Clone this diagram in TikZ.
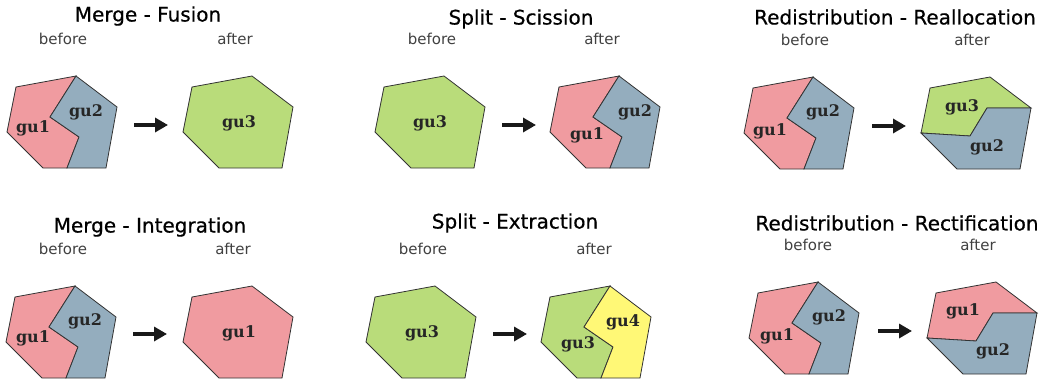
\documentclass[tikz,border=0pt]{standalone}
\usepackage{fontspec}
\setmainfont{DejaVu Sans}
\newfontfamily\gufont{DejaVu Serif}
\usetikzlibrary{arrows.meta}

\definecolor{gupink}{RGB}{240,155,160}
\definecolor{gublue}{RGB}{148,173,190}
\definecolor{gugreen}{RGB}{185,220,122}
\definecolor{guyellow}{RGB}{255,248,118}

\tikzset{
  parcel/.style={draw=black!80, line width=0.8pt, line join=miter},
  optitle/.style={font=\fontsize{20}{24}\selectfont\addfontfeature{FakeBold=0.6}},
  stage/.style={font=\fontsize{15}{18}\selectfont, text=black!75},
  gu/.style={font=\gufont\bfseries\fontsize{16}{18}\selectfont, text=black!85},
  change/.style={-{Triangle[length=13pt,width=14pt]}, line width=4pt, black!90},
}

% corners of the parcel, relative to its top vertex
\newcommand{\parcelpoints}{%
  \coordinate (tl) at (-60,11);
  \coordinate (t)  at (0,0);
  \coordinate (r)  at (41,31);
  \coordinate (br) at (30,92);
  \coordinate (bl) at (-33,92);
  \coordinate (l)  at (-69,56);
  % vertical split
  \coordinate (s1) at (-26,41);
  \coordinate (s2) at (3,61);
  \coordinate (sb) at (-9,92);
  % horizontal split
  \coordinate (h1) at (-20,59);
  \coordinate (h2) at (-3,31);
}

\begin{document}
\begin{tikzpicture}[x=1pt,y=-1pt]
    \useasboundingbox (0,0) rectangle (1044,380);

    % ---------------- Merge - Fusion ----------------
    \node[optitle] (fus-title) at (148,16) {Merge - Fusion};
    \node[stage] (fus-before) at (63,39) {before};
    \node[stage] (fus-after) at (235,39) {after};
    \begin{scope}[shift={(76,76)}]
        \parcelpoints
        \filldraw[parcel,fill=gupink] (tl) -- (t) -- (s1) -- (s2) -- (sb) -- (bl) -- (l) -- cycle;
        \filldraw[parcel,fill=gublue] (t) -- (r) -- (br) -- (sb) -- (s2) -- (s1) -- cycle;
        \node[gu] (fus-a) at (-43,52) {gu1};
        \node[gu] (fus-b) at (10,36) {gu2};
    \end{scope}
    \coordinate (fus-from) at (134,125);
    \coordinate (fus-to) at (168,125);
    \draw[change] (fus-from) -- (fus-to);
    \begin{scope}[shift={(252,76)}]
        \parcelpoints
        \filldraw[parcel,fill=gugreen] (tl) -- (t) -- (r) -- (br) -- (bl) -- (l) -- cycle;
        \node[gu] (fus-c) at (-13,47) {gu3};
    \end{scope}

    % ---------------- Split - Scission ----------------
    \node[optitle] (sci-title) at (521,19) {Split - Scission};
    \node[stage] (sci-before) at (432,39) {before};
    \node[stage] (sci-after) at (602,39) {after};
    \begin{scope}[shift={(444,76)}]
        \parcelpoints
        \filldraw[parcel,fill=gugreen] (tl) -- (t) -- (r) -- (br) -- (bl) -- (l) -- cycle;
        \node[gu] (sci-c) at (-14,47) {gu3};
    \end{scope}
    \coordinate (sci-from) at (502,125);
    \coordinate (sci-to) at (536,125);
    \draw[change] (sci-from) -- (sci-to);
    \begin{scope}[shift={(619,76)}]
        \parcelpoints
        \filldraw[parcel,fill=gupink] (tl) -- (t) -- (s1) -- (s2) -- (sb) -- (bl) -- (l) -- cycle;
        \filldraw[parcel,fill=gublue] (t) -- (r) -- (br) -- (sb) -- (s2) -- (s1) -- cycle;
        \node[gu] (sci-a) at (-32,59) {gu1};
        \node[gu] (sci-b) at (16,36) {gu2};
    \end{scope}

    % ---------------- Redistribution - Reallocation ----------------
    \node[optitle] (rea-title) at (895,17) {Redistribution - Reallocation};
    \node[stage] (rea-before) at (805,40) {before};
    \node[stage] (rea-after) at (972,40) {after};
    \begin{scope}[shift={(813,77)}]
        \parcelpoints
        \filldraw[parcel,fill=gupink] (tl) -- (t) -- (s1) -- (s2) -- (sb) -- (bl) -- (l) -- cycle;
        \filldraw[parcel,fill=gublue] (t) -- (r) -- (br) -- (sb) -- (s2) -- (s1) -- cycle;
        \node[gu] (rea-a) at (-43,54) {gu1};
        \node[gu] (rea-b) at (10,35) {gu2};
    \end{scope}
    \coordinate (rea-from) at (872,126);
    \coordinate (rea-to) at (906,126);
    \draw[change] (rea-from) -- (rea-to);
    \begin{scope}[shift={(990,77)}]
        \parcelpoints
        \filldraw[parcel,fill=gugreen] (tl) -- (t) -- (r) -- (h2) -- (h1) -- (l) -- cycle;
        \filldraw[parcel,fill=gublue] (l) -- (h1) -- (h2) -- (r) -- (br) -- (bl) -- cycle;
        \node[gu] (rea-c) at (-28,30) {gu3};
        \node[gu] (rea-d) at (-3,70) {gu2};
    \end{scope}

    % ---------------- Merge - Integration ----------------
    \node[optitle] (int-title) at (150,227) {Merge - Integration};
    \node[stage] (int-before) at (63,249) {before};
    \node[stage] (int-after) at (233,249) {after};
    \begin{scope}[shift={(75,286)}]
        \parcelpoints
        \filldraw[parcel,fill=gupink] (tl) -- (t) -- (s1) -- (s2) -- (sb) -- (bl) -- (l) -- cycle;
        \filldraw[parcel,fill=gublue] (t) -- (r) -- (br) -- (sb) -- (s2) -- (s1) -- cycle;
        \node[gu] (int-a) at (-42,52) {gu1};
        \node[gu] (int-b) at (10,35) {gu2};
    \end{scope}
    \coordinate (int-from) at (133,334);
    \coordinate (int-to) at (167,334);
    \draw[change] (int-from) -- (int-to);
    \begin{scope}[shift={(252,286)}]
        \parcelpoints
        \filldraw[parcel,fill=gupink] (tl) -- (t) -- (r) -- (br) -- (bl) -- (l) -- cycle;
        \node[gu] (int-c) at (-13,47) {gu1};
    \end{scope}

    % ---------------- Split - Extraction ----------------
    \node[optitle] (ext-title) at (515,223) {Split - Extraction};
    \node[stage] (ext-before) at (423,249) {before};
    \node[stage] (ext-after) at (594,249) {after};
    \begin{scope}[shift={(435,286)}]
        \parcelpoints
        \filldraw[parcel,fill=gugreen] (tl) -- (t) -- (r) -- (br) -- (bl) -- (l) -- cycle;
        \node[gu] (ext-c) at (-13,47) {gu3};
    \end{scope}
    \coordinate (ext-from) at (493,334);
    \coordinate (ext-to) at (527,334);
    \draw[change] (ext-from) -- (ext-to);
    \begin{scope}[shift={(610,286)}]
        \parcelpoints
        \filldraw[parcel,fill=gugreen] (tl) -- (t) -- (s1) -- (s2) -- (sb) -- (bl) -- (l) -- cycle;
        \filldraw[parcel,fill=guyellow] (t) -- (r) -- (br) -- (sb) -- (s2) -- (s1) -- cycle;
        \node[gu] (ext-a) at (-32,58) {gu3};
        \node[gu] (ext-b) at (13,36) {gu4};
    \end{scope}

    % ---------------- Redistribution - Rectification ----------------
    \node[optitle] (rec-title) at (897,223) {Redistribution - Rectification};
    \node[stage] (rec-before) at (808,245) {before};
    \node[stage] (rec-after) at (978,245) {after};
    \begin{scope}[shift={(818,282)}]
        \parcelpoints
        \filldraw[parcel,fill=gupink] (tl) -- (t) -- (s1) -- (s2) -- (sb) -- (bl) -- (l) -- cycle;
        \filldraw[parcel,fill=gublue] (t) -- (r) -- (br) -- (sb) -- (s2) -- (s1) -- cycle;
        \node[gu] (rec-a) at (-41,54) {gu1};
        \node[gu] (rec-b) at (11,35) {gu2};
    \end{scope}
    \coordinate (rec-from) at (878,331);
    \coordinate (rec-to) at (912,331);
    \draw[change] (rec-from) -- (rec-to);
    \begin{scope}[shift={(996,282)}]
        \parcelpoints
        \filldraw[parcel,fill=gupink] (tl) -- (t) -- (r) -- (h2) -- (h1) -- (l) -- cycle;
        \filldraw[parcel,fill=gublue] (l) -- (h1) -- (h2) -- (r) -- (br) -- (bl) -- cycle;
        \node[gu] (rec-c) at (-33,29) {gu1};
        \node[gu] (rec-d) at (-3,69) {gu2};
    \end{scope}

\end{tikzpicture}
\end{document}
